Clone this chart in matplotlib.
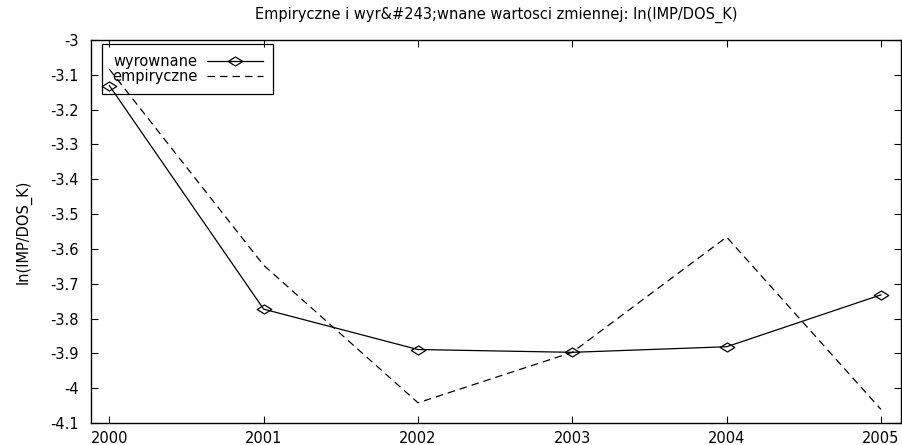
import numpy as np
import matplotlib.pyplot as plt
from matplotlib.path import Path

# ------------------------ Dane ------------------------
lata = [2000, 2001, 2002, 2003, 2004, 2005]
wyrownane = [-3.131, -3.773, -3.889, -3.897, -3.881, -3.732]
empiryczne = [-3.084, -3.647, -4.042, -3.897, -3.566, -4.061]
y_ticks = [-3.0, -3.1, -3.2, -3.3, -3.4, -3.5, -3.6, -3.7, -3.8, -3.9, -4.0, -4.1]

plt.rcParams['font.family'] = ['DejaVu Sans']
fs = 10.5

# romb spłaszczony jak w gnuplocie
romb = Path([(-1, 0), (0, 0.62), (1, 0), (0, -0.62), (-1, 0)],
            [Path.MOVETO, Path.LINETO, Path.LINETO, Path.LINETO, Path.CLOSEPOLY])

fig = plt.figure(figsize=(9.03, 4.45), dpi=100)
ax = fig.add_axes([91 / 903, 22 / 445, 810 / 903, 383 / 445])

ax.plot(lata, wyrownane, color='black', linewidth=0.9, marker=romb,
        markersize=10.5, markerfacecolor='none', markeredgecolor='black',
        markeredgewidth=0.9, label='wyrownane')
ax.plot(lata, empiryczne, color='black', linewidth=0.9, linestyle=(0, (6, 4)),
        label='empiryczne')

ax.set_xlim(1999.881, 2005.13)
ax.set_ylim(-4.1, -3.0)
ax.set_xticks(lata)
ax.set_xticklabels([str(r) for r in lata])
ax.set_yticks(y_ticks)
ax.set_yticklabels([f'{t:g}' for t in y_ticks])

ax.tick_params(axis='both', direction='in', length=5, width=0.8, labelsize=fs,
               top=True, right=True)
ax.tick_params(axis='x', pad=6)
ax.tick_params(axis='y', pad=9)
for s in ax.spines.values():
    s.set_linewidth(1.0)

ax.set_title('Empiryczne i wyr&#243;wnane wartosci zmiennej: ln(IMP/DOS_K)',
             fontsize=fs, pad=15)
ax.set_ylabel('ln(IMP/DOS_K)', fontsize=fs, labelpad=13)

leg = ax.legend(loc='upper left', bbox_to_anchor=(0.0132, 0.9896),
                markerfirst=False, fontsize=fs, handlelength=3.8,
                fancybox=False, edgecolor='black', facecolor='none',
                framealpha=1, borderpad=0.7, labelspacing=0.0,
                handletextpad=0.7, borderaxespad=0)
leg.get_frame().set_linewidth(0.9)

fig.savefig('out.png', dpi=100)
